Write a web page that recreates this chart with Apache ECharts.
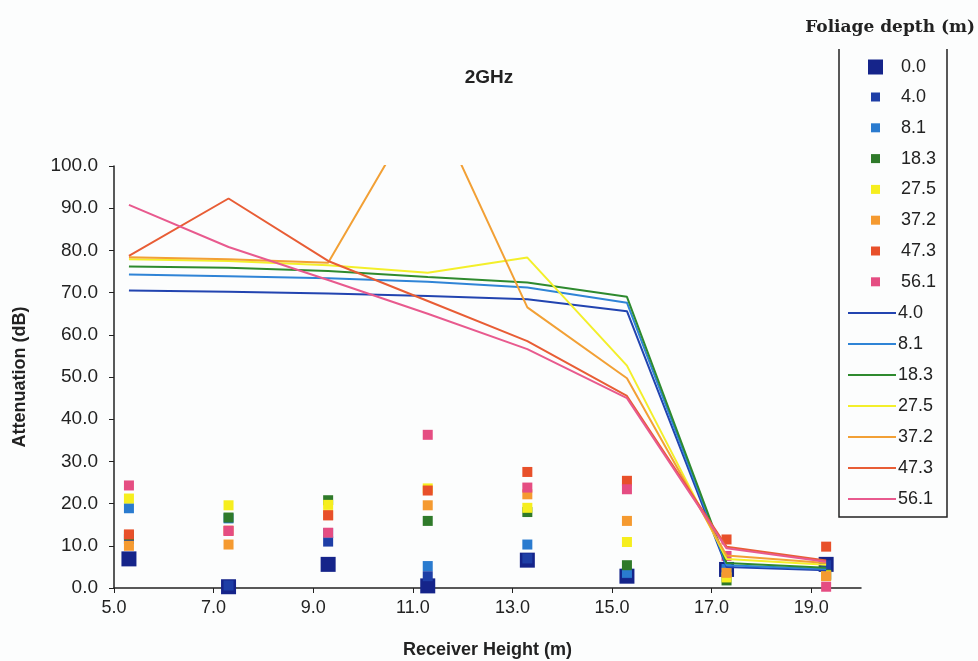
<!DOCTYPE html>
<html>
<head>
<meta charset="utf-8">
<script src="https://cdn.jsdelivr.net/npm/echarts@6/dist/echarts.min.js"></script>
<style>
html,body{margin:0;padding:0;background:#fcfdfd;}
#chart{width:978px;height:661px;}
</style>
</head>
<body>
<div id="chart"></div>
<script>
// Receiver heights (m)
const heights = [5.3, 7.3, 9.3, 11.3, 13.3, 15.3, 17.3, 19.3];
const xTicks = [5, 7, 9, 11, 13, 15, 17, 19];

// Measured attenuation (dB) per foliage depth (scatter squares)
const meas0_0  = [6.9, 0.3, 5.6, 0.5, 6.6, 2.8, 4.4, 5.6];
const meas4_0  = [11.6, 0.6, 11.0, 2.8, 7.0, 3.5, 4.0, 5.4];
const meas8_1  = [18.9, 16.5, 13.0, 5.2, 10.3, 3.6, 4.5, 3.0];
const meas18_3 = [12.5, 16.7, 20.8, 15.9, 18.0, 5.4, 1.8, 3.2];
const meas27_5 = [21.2, 19.6, 19.7, 23.6, 19.0, 10.9, 2.5, 3.0];
const meas37_2 = [10.0, 10.3, 17.3, 19.6, 22.2, 15.9, 3.6, 2.8];
const meas47_3 = [12.7, 13.6, 17.2, 23.1, 27.5, 25.4, 11.5, 9.8];
const meas56_1 = [24.3, 13.5, 13.1, 36.3, 23.8, 23.4, 7.6, 0.3];

// Predicted attenuation (dB) per foliage depth (lines)
const pred4_0  = [70.5, 70.2, 69.8, 69.2, 68.4, 65.6, 5.0, 4.2];
const pred8_1  = [74.3, 73.9, 73.4, 72.6, 71.2, 67.6, 5.4, 4.5];
const pred18_3 = [76.2, 75.9, 75.1, 73.7, 72.4, 69.0, 5.9, 4.8];
const pred27_5 = [77.9, 77.5, 76.5, 74.7, 78.3, 52.7, 6.9, 5.5];
const pred37_2 = [78.4, 77.9, 77.1, 117.5, 66.5, 49.7, 7.7, 5.9];
const pred47_3 = [78.7, 92.3, 77.5, 68.0, 58.5, 45.5, 9.8, 6.5];
const pred56_1 = [90.8, 80.8, 73.0, 65.0, 56.6, 45.0, 9.4, 6.2];

const scatterDefs = [
  ['0.0', meas0_0, '#15248a'],
  ['4.0', meas4_0, '#1e3ea6'],
  ['8.1', meas8_1, '#2a7bcf'],
  ['18.3', meas18_3, '#2f7a2a'],
  ['27.5', meas27_5, '#f6ee1e'],
  ['37.2', meas37_2, '#f59a30'],
  ['47.3', meas47_3, '#e8502a'],
  ['56.1', meas56_1, '#e54d82']
];
const lineDefs = [
  ['4.0', pred4_0, '#2244b0'],
  ['8.1', pred8_1, '#2f84d6'],
  ['18.3', pred18_3, '#2e8a2e'],
  ['27.5', pred27_5, '#f3ef2a'],
  ['37.2', pred37_2, '#f2a035'],
  ['47.3', pred47_3, '#e85d35'],
  ['56.1', pred56_1, '#e85a8e']
];

const series = [];
scatterDefs.forEach(function (d, i) {
  series.push({
    name: 's' + d[0],
    type: 'scatter',
    symbol: 'rect',
    symbolSize: i === 0 ? 15 : 10,
    itemStyle: { color: d[2], opacity: 1 },
    data: heights.map(function (h, k) { return [h, d[1][k]]; })
  });
});
lineDefs.forEach(function (d) {
  series.push({
    name: 'l' + d[0],
    type: 'line',
    symbol: 'none',
    clip: true,
    lineStyle: { color: d[2], width: 2 },
    itemStyle: { color: d[2] },
    data: heights.map(function (h, k) { return [h, d[1][k]]; })
  });
});

const FONT = 'Liberation Sans, Arial, sans-serif';
const legendText = { fontFamily: FONT, fontSize: 18, color: '#222', lineHeight: 18 };
const fmt = function (n) { return n.slice(1); };

const chart = echarts.init(document.getElementById('chart'), null, { renderer: 'canvas' });
chart.setOption({
  backgroundColor: '#fcfdfd',
  animation: false,
  title: {
    text: '2GHz',
    left: 'center',
    top: 63,
    textStyle: { fontFamily: FONT, fontSize: 19, fontWeight: 'bold', color: '#222' }
  },
  grid: { left: 114, right: 117, top: 166, bottom: 73, containLabel: false, outerBoundsMode: 'none' },
  xAxis: {
    type: 'value',
    min: 5, max: 20, interval: 2,
    name: 'Receiver Height (m)',
    nameLocation: 'middle',
    nameGap: 53,
    nameTextStyle: { fontFamily: FONT, fontSize: 18, fontWeight: 'bold', color: '#222' },
    axisLine: { show: true, lineStyle: { color: '#222', width: 1.5 } },
    axisTick: { show: true, length: 5, lineStyle: { color: '#222' }, customValues: xTicks },
    axisLabel: { customValues: xTicks, formatter: function (v) { return v.toFixed(1); }, fontFamily: FONT, fontSize: 18, color: '#222', margin: 11 },
    splitLine: { show: false }
  },
  yAxis: {
    type: 'value',
    min: 0, max: 100, interval: 10,
    name: 'Attenuation (dB)',
    nameLocation: 'middle',
    nameGap: 85,
    nameTextStyle: { fontFamily: FONT, fontSize: 18, fontWeight: 'bold', color: '#222' },
    axisLine: { show: true, lineStyle: { color: '#222', width: 1.5 } },
    axisTick: { show: true, length: 5, lineStyle: { color: '#222' } },
    axisLabel: { formatter: function (v) { return v.toFixed(1); }, fontFamily: FONT, fontSize: 19, color: '#222', margin: 16 },
    splitLine: { show: false }
  },
  legend: [
    {
      orient: 'vertical', left: 863, top: 53,
      itemWidth: 15, itemHeight: 15, itemGap: 12,
      icon: 'rect',
      data: ['s0.0'],
      formatter: fmt,
      textStyle: Object.assign({ padding: [0, 0, 0, 13] }, legendText)
    },
    {
      orient: 'vertical', left: 866, top: 83,
      itemWidth: 9, itemHeight: 9, itemGap: 12.8,
      icon: 'rect',
      data: ['s4.0', 's8.1', 's18.3', 's27.5', 's37.2', 's47.3', 's56.1'],
      formatter: fmt,
      textStyle: Object.assign({ padding: [0, 0, 0, 16] }, legendText)
    },
    {
      orient: 'vertical', left: 843, top: 299,
      itemWidth: 48, itemHeight: 2, itemGap: 13,
      icon: 'path://M0,0H48V2H0Z',
      data: ['l4.0', 'l8.1', 'l18.3', 'l27.5', 'l37.2', 'l47.3', 'l56.1'],
      formatter: fmt,
      textStyle: Object.assign({ padding: [0, 0, 0, -3] }, legendText)
    }
  ],
  graphic: [
    {
      type: 'polyline',
      shape: { points: [[839, 49], [839, 517], [947, 517], [947, 49]] },
      style: { stroke: '#222', lineWidth: 1.5, fill: null }
    },
    {
      type: 'text',
      right: 3, top: 19,
      style: { text: 'Foliage depth (m)', font: 'bold 17px "DejaVu Serif", serif', fill: '#222' }
    }
  ],
  series: series
});
</script>
</body>
</html>
